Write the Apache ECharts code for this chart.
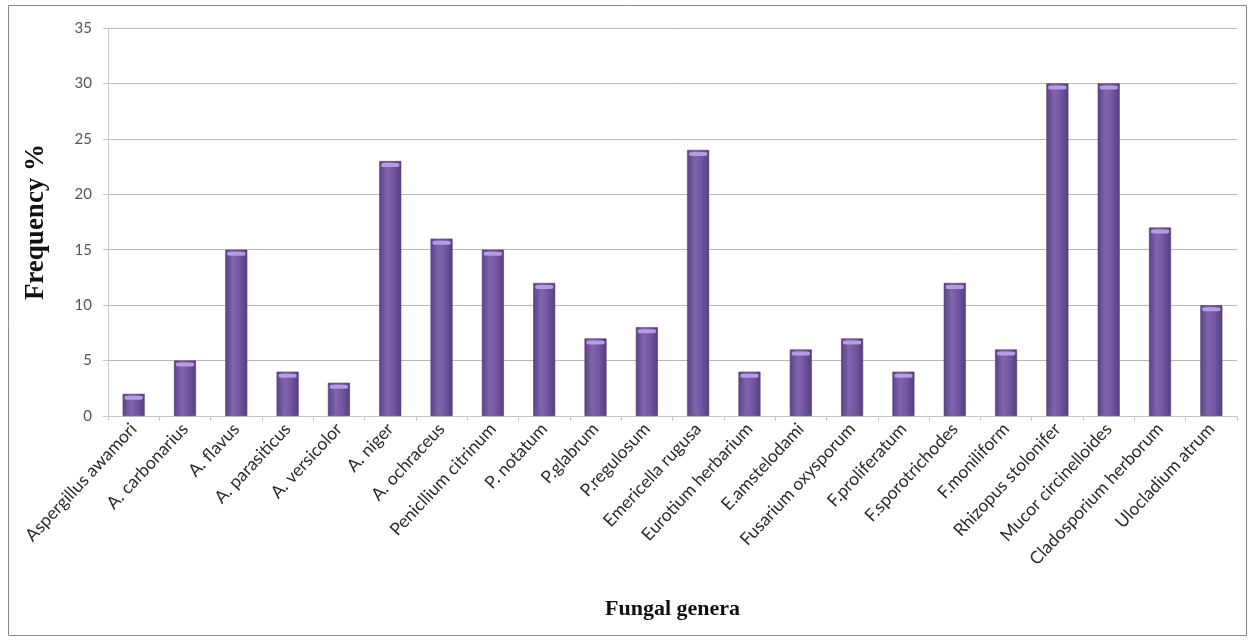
<!DOCTYPE html>
<html>
<head>
<meta charset="utf-8">
<script src="https://cdn.jsdelivr.net/npm/echarts@6/dist/echarts.min.js"></script>
<style>
  html, body { margin: 0; padding: 0; background: #fff; }
  #chart { width: 1254px; height: 643px; }
</style>
</head>
<body>
<div id="chart"></div>
<script>
// Fungal genera and their frequency (%)
const genera = [
  'Aspergillus awamori', 'A. carbonarius', 'A. flavus', 'A. parasiticus', 'A. versicolor',
  'A. niger', 'A. ochraceus', 'Penicllium citrinum', 'P. notatum', 'P.glabrum',
  'P.regulosum', 'Emericella rugusa', 'Eurotium herbarium', 'E.amstelodami',
  'Fusarium oxysporum', 'F.proliferatum', 'F.sporotrichodes', 'F.moniliform',
  'Rhizopus stolonifer', 'Mucor circinelloides', 'Cladosporium herborum', 'Ulocladium atrum'
];
const frequency = [2, 5, 15, 4, 3, 23, 16, 15, 12, 7, 8, 24, 4, 6, 7, 4, 12, 6, 30, 30, 17, 10];
const yTicks = [0, 5, 10, 15, 20, 25, 30, 35];

const chart = echarts.init(document.getElementById('chart'), null, { renderer: 'canvas' });

// cylinder-like shading across each bar
const barFill = new echarts.graphic.LinearGradient(0, 0, 1, 0, [
  { offset: 0, color: '#5a4285' },
  { offset: 0.35, color: '#8064ad' },
  { offset: 0.6, color: '#7659a4' },
  { offset: 1, color: '#553e7e' }
]);

chart.setOption({
  animation: false,
  backgroundColor: '#ffffff',
  graphic: [{
    type: 'rect',
    shape: { x: 8.5, y: 5.5, width: 1238, height: 630 },
    style: { fill: 'none', stroke: '#8a8a8a', lineWidth: 1 }
  }],
  grid: { left: 108, right: 17, top: 28, bottom: 227 },
  xAxis: {
    type: 'category',
    data: genera,
    boundaryGap: true,
    axisLine: { lineStyle: { color: '#c8c8c8' } },
    axisTick: { show: true, alignWithLabel: false, length: 5, lineStyle: { color: '#c8c8c8' } },
    axisLabel: {
      interval: 0, rotate: 47, margin: 10,
      fontFamily: 'Lato, Open Sans, sans-serif', fontSize: 17.5, color: '#2a2a2a'
    },
    name: 'Fungal genera',
    nameLocation: 'middle',
    nameGap: 182,
    nameTextStyle: { fontFamily: 'Liberation Serif, serif', fontWeight: 'bold', fontSize: 22, color: '#111' }
  },
  yAxis: {
    type: 'value',
    min: yTicks[0], max: yTicks[yTicks.length - 1], interval: 5,
    axisLine: { show: true, lineStyle: { color: '#c8c8c8' } },
    axisTick: { show: true, length: 5, lineStyle: { color: '#c8c8c8' } },
    splitLine: { lineStyle: { color: '#b8b8b8', width: 1 } },
    axisLabel: { fontFamily: 'Lato, Open Sans, sans-serif', fontSize: 15, color: '#555', margin: 16 },
    name: 'Frequency %',
    nameLocation: 'middle',
    nameGap: 58,
    nameTextStyle: { fontFamily: 'Liberation Serif, serif', fontWeight: 'bold', fontSize: 27, color: '#111' }
  },
  series: [
    {
      type: 'bar',
      data: frequency,
      barWidth: 22,
      itemStyle: { color: barFill, borderColor: '#4e3975', borderWidth: 0.6 },
      z: 2
    },
    {
      // lighter cap on top of each bar
      type: 'pictorialBar',
      data: frequency,
      symbol: 'roundRect',
      symbolSize: [18, 4],
      symbolPosition: 'end',
      symbolOffset: [0, 2],
      itemStyle: { color: '#b79ce2' },
      z: 3,
      silent: true
    }
  ]
});
</script>
</body>
</html>
